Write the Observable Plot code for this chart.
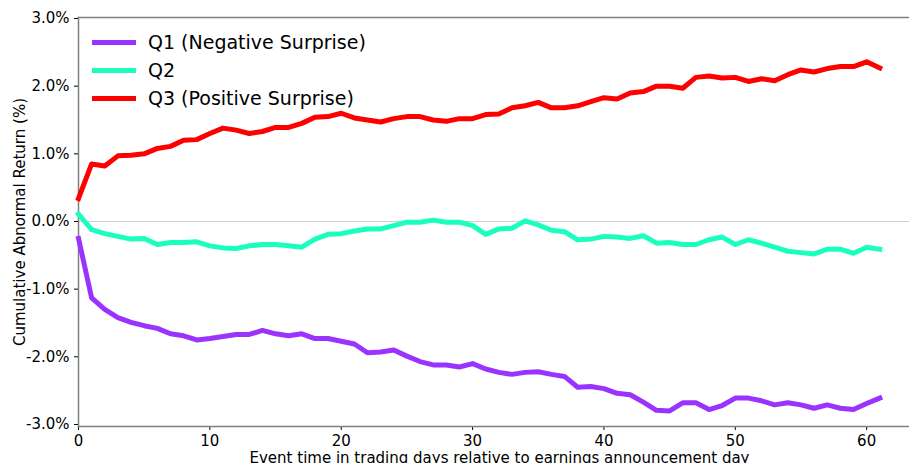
<!DOCTYPE html>
<html>
<head>
<meta charset="utf-8">
<script src="https://cdn.jsdelivr.net/npm/d3@7"></script>
<script src="https://cdn.jsdelivr.net/npm/@observablehq/plot@0.6"></script>
<style>
  html, body { margin: 0; padding: 0; background: white; overflow: hidden; }
  #wrap { position: relative; width: 909px; height: 463px; overflow: hidden; font-family: "DejaVu Sans", sans-serif; }
  #wrap svg { max-width: none !important; display: block; }
  #legend { position: absolute; left: 92px; top: 28px; }
  .row { display: flex; align-items: center; height: 28px; font-size: 19px; color: #000; }
  .swatch { width: 44px; height: 5px; margin-right: 12px; }
</style>
</head>
<body>
<div id="wrap"><div id="legend"></div></div>
<script>
const days = [0,1,2,3,4,5,6,7,8,9,10,11,12,13,14,15,16,17,18,19,20,21,22,23,24,25,26,27,28,29,30,31,32,33,34,35,36,37,38,39,40,41,42,43,44,45,46,47,48,49,50,51,52,53,54,55,56,57,58,59,60,61];

const q1 = [-0.25,-1.13,-1.30,-1.42,-1.49,-1.54,-1.58,-1.66,-1.69,-1.75,-1.73,-1.70,-1.67,-1.67,-1.61,-1.66,-1.69,-1.66,-1.73,-1.73,-1.77,-1.81,-1.94,-1.93,-1.90,-1.99,-2.07,-2.12,-2.12,-2.15,-2.10,-2.18,-2.23,-2.26,-2.23,-2.22,-2.26,-2.29,-2.45,-2.44,-2.47,-2.54,-2.56,-2.67,-2.79,-2.80,-2.68,-2.68,-2.78,-2.72,-2.61,-2.61,-2.65,-2.71,-2.68,-2.71,-2.76,-2.71,-2.76,-2.78,-2.69,-2.61];

const q2 = [0.11,-0.12,-0.18,-0.22,-0.26,-0.25,-0.34,-0.31,-0.31,-0.30,-0.36,-0.39,-0.40,-0.36,-0.34,-0.34,-0.36,-0.38,-0.26,-0.19,-0.18,-0.14,-0.11,-0.11,-0.06,-0.01,-0.01,0.02,-0.01,-0.01,-0.06,-0.19,-0.11,-0.10,0.01,-0.05,-0.13,-0.15,-0.27,-0.26,-0.22,-0.23,-0.25,-0.21,-0.32,-0.31,-0.34,-0.34,-0.27,-0.23,-0.34,-0.27,-0.32,-0.38,-0.44,-0.46,-0.48,-0.41,-0.41,-0.47,-0.38,-0.41];

const q3 = [0.34,0.85,0.82,0.97,0.98,1.00,1.08,1.11,1.20,1.21,1.30,1.38,1.35,1.30,1.33,1.39,1.39,1.45,1.54,1.55,1.60,1.53,1.50,1.47,1.52,1.55,1.55,1.50,1.48,1.52,1.52,1.58,1.59,1.68,1.71,1.76,1.68,1.68,1.71,1.77,1.83,1.81,1.90,1.92,2.00,2.00,1.97,2.13,2.15,2.12,2.13,2.07,2.11,2.08,2.17,2.24,2.21,2.26,2.29,2.29,2.36,2.27];

const seriesNames = ["Q1 (Negative Surprise)", "Q2", "Q3 (Positive Surprise)"];
const seriesColors = ["#9b33ff", "#1affc0", "#ff0000"];
const xTicks = [0, 10, 20, 30, 40, 50, 60];
const yTicks = [-3, -2, -1, 0, 1, 2, 3];
const xLabel = "Event time in trading days relative to earnings announcement day";
const yLabel = "Cumulative Abnormal Return (%)";

const seriesValues = [q1, q2, q3];
const rows = [];
seriesValues.forEach((vals, i) => {
  vals.forEach((v, j) => rows.push({series: seriesNames[i], day: days[j], value: v}));
});

const chart = Plot.plot({
  width: 920,
  height: 463,
  marginLeft: 78,
  marginRight: 0,
  marginTop: 17,
  marginBottom: 37,
  style: {fontFamily: "DejaVu Sans", fontSize: "15px", color: "#000", background: "white", maxWidth: "none"},
  x: {domain: [0, 64.1], ticks: xTicks, tickSize: 4, label: xLabel, labelAnchor: "center", labelOffset: 36, labelArrow: "none"},
  y: {domain: [-3.03, 3.015], ticks: yTicks, tickSize: 4, tickFormat: d => d.toFixed(1) + "%", label: yLabel, labelAnchor: "center", labelOffset: 64, labelArrow: "none"},
  color: {domain: seriesNames, range: seriesColors},
  marks: [
    Plot.ruleY([0], {stroke: "#d0d0d0", strokeWidth: 1}),
    Plot.frame({anchor: "left", stroke: "#808080", strokeWidth: 1.5}),
    Plot.frame({anchor: "top", stroke: "#808080", strokeWidth: 1.5}),
    Plot.frame({anchor: "bottom", stroke: "#808080", strokeWidth: 1.5}),
    Plot.line(rows, {x: "day", y: "value", z: "series", stroke: "series", strokeWidth: 5, strokeLinejoin: "round", strokeLinecap: "square"})
  ]
});

const wrap = document.getElementById("wrap");
wrap.insertBefore(chart, wrap.firstChild);

const legend = document.getElementById("legend");
seriesNames.forEach((name, i) => {
  const row = document.createElement("div");
  row.className = "row";
  const sw = document.createElement("span");
  sw.className = "swatch";
  sw.style.background = seriesColors[i];
  const tx = document.createElement("span");
  tx.textContent = name;
  row.appendChild(sw);
  row.appendChild(tx);
  legend.appendChild(row);
});
</script>
</body>
</html>
